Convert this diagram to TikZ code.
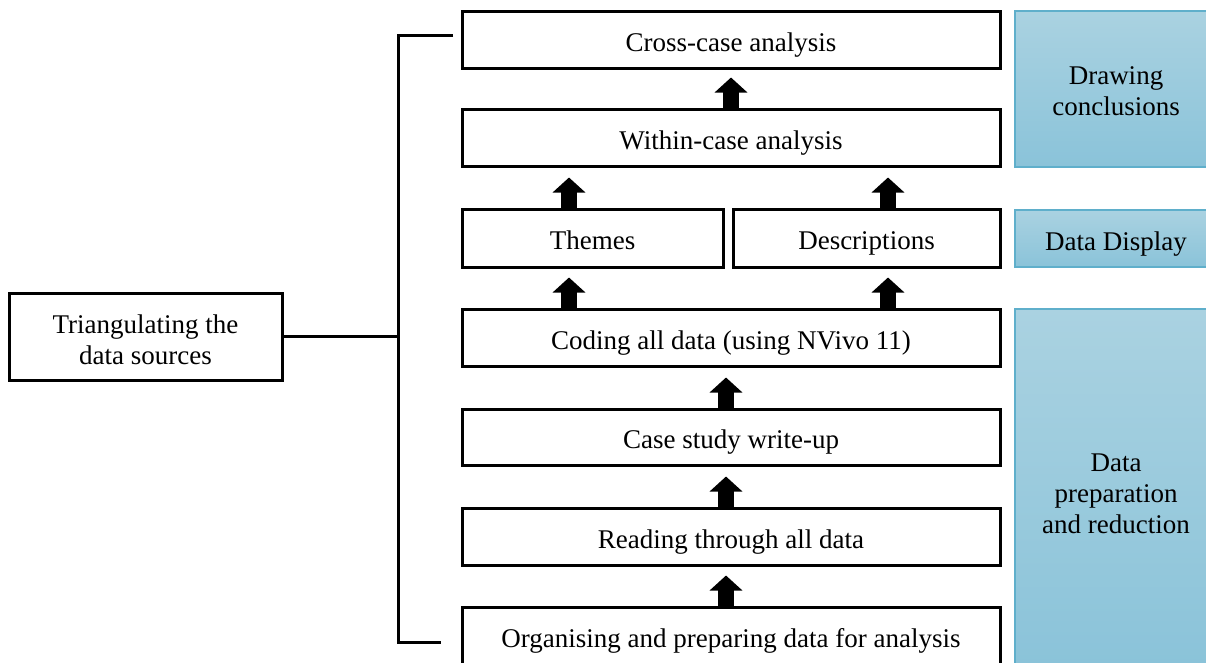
\documentclass[tikz,border=0pt]{standalone}
\usepackage{fontspec}
\setmainfont{Liberation Serif}
\usetikzlibrary{arrows.meta,calc}
\definecolor{phaseTop}{HTML}{AAD2E1}
\definecolor{phaseBot}{HTML}{8AC3D9}
\definecolor{phaseLine}{HTML}{5FAFCB}
\tikzset{
  x=1pt, y=-1pt,
  every node/.style={font=\fontsize{27}{31}\selectfont, align=center, inner sep=0pt,
    text height=23pt, text depth=0pt},
  stepbox/.style={draw=black, line width=3pt, fill=white, rectangle},
  phase/.style={draw=phaseLine, line width=1.5pt, rectangle,
    top color=phaseTop, bottom color=phaseBot},
  blk/.style={line width=16pt, -{Triangle[length=15pt,width=32pt]}},
  bracket/.style={line width=3pt}
}
\begin{document}
\begin{tikzpicture}
\useasboundingbox (0,0) rectangle (1206,662);
\begin{scope}
\clip (0,0) rectangle (1206,662);
% analysis steps
\node[stepbox, minimum width=538pt, minimum height=57pt] (cross) at (731,39.5) {Cross-case analysis};
\node[stepbox, minimum width=538pt, minimum height=57pt] (within) at (731,137.5) {Within-case analysis};
\node[stepbox, minimum width=261pt, minimum height=58pt] (themes) at (592.5,238) {Themes};
\node[stepbox, minimum width=267pt, minimum height=58pt] (desc) at (866.5,238) {Descriptions};
\node[stepbox, minimum width=538pt, minimum height=57pt] (coding) at (731,337.5) {Coding all data (using NVivo 11)};
\node[stepbox, minimum width=538pt, minimum height=56pt] (case) at (731,437) {Case study write-up};
\node[stepbox, minimum width=538pt, minimum height=57pt] (reading) at (731,536.5) {Reading through all data};
\node[stepbox, minimum width=538pt, minimum height=58pt] (organise) at (731,636) {Organising and preparing data for analysis};
% triangulation (height covers all lines above the last baseline)
\node[stepbox, minimum width=273pt, minimum height=87pt, text height=55.5pt] (tri) at (145.5,336.5) {Triangulating the\\data sources};
% phases
\node[phase, minimum width=202pt, minimum height=156pt, text height=52pt] (concl) at (1116,89) {Drawing\\conclusions};
\node[phase, minimum width=202pt, minimum height=57pt] (display) at (1116,238.5) {Data Display};
\node[phase, minimum width=202pt, minimum height=362pt, text height=86pt] (prep) at (1116,490) {Data\\preparation\\and reduction};
% block arrows
\draw[blk] (within.north) -- ++(0,-30);
\draw[blk] (themes.north -| 569,0) -- ++(0,-30);
\draw[blk] (desc.north -| 888,0) -- ++(0,-30);
\draw[blk] (coding.north -| 569,0) -- ++(0,-30);
\draw[blk] (coding.north -| 888,0) -- ++(0,-30);
\draw[blk] (case.north -| 726,0) -- ++(0,-30);
\draw[blk] (reading.north -| 726,0) -- ++(0,-30);
\draw[blk] (organise.north -| 726,0) -- ++(0,-30);
% bracket
\coordinate (brTop) at (398,35);
\coordinate (brBot) at (398,642);
\draw[bracket] (453,35) -- (brTop) -- (brBot) -- (441,642);
\draw[bracket] (tri.east) -- (tri.east -| brTop);
\end{scope}
\end{tikzpicture}
\end{document}
